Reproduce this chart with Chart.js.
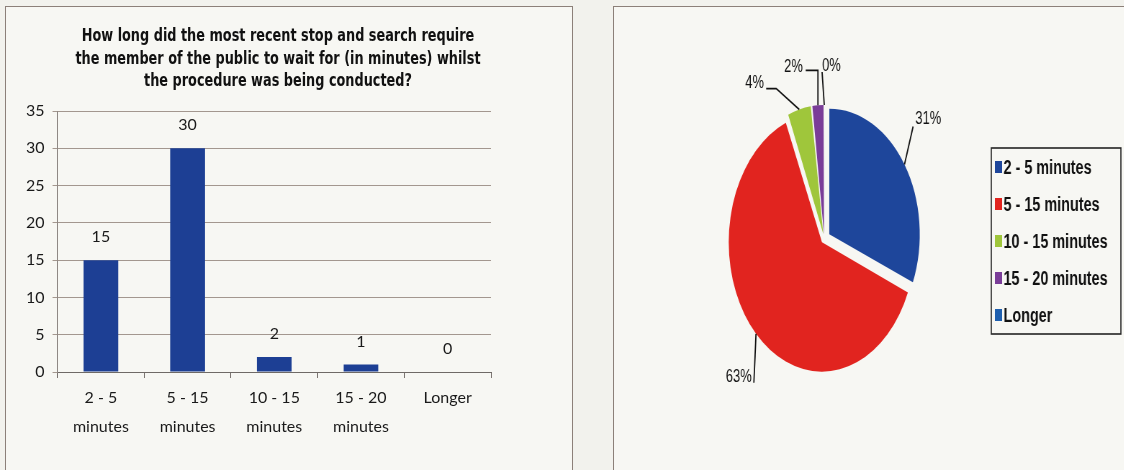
<!DOCTYPE html>
<html>
<head>
<meta charset="utf-8">
<title>Stop and search waiting time</title>
<script src="https://cdn.jsdelivr.net/npm/chart.js@4.4.1/dist/chart.umd.min.js"></script>
<style>
  body { margin: 0; background: #f2f2ed; width: 1124px; height: 470px; overflow: hidden; position: relative; }
  .panel { position: absolute; top: 6px; height: 500px; border: 1.5px solid #8c8079; background: #f7f7f3; }
  #leftPanel { left: 5px; width: 566px; }
  #rightPanel { left: 613px; width: 600px; }
  #barChart { position: absolute; left: 8px; top: 8px; }
  /* the pie panel is drawn wide and squeezed sideways */
  #pieChart { position: absolute; left: 614px; top: 8px; transform: scaleX(0.72); transform-origin: 0 0; }
</style>
</head>
<body>
<div class="panel" id="leftPanel"></div>
<div class="panel" id="rightPanel"></div>
<canvas id="barChart" width="562" height="460"></canvas>
<canvas id="pieChart" width="708" height="462"></canvas>
<script>
// waiting time answers
const durations = ['2 - 5 minutes', '5 - 15 minutes', '10 - 15 minutes', '15 - 20 minutes', 'Longer'];
const responses = [15, 30, 2, 1, 0];
const yTicks = [0, 5, 10, 15, 20, 25, 30, 35];
const titleLines = ['How long did the most recent stop and search require',
                    'the member of the public to wait for (in minutes) whilst',
                    'the procedure was being conducted?'];

const barColour = '#1d3f94';
const pieColours = ['#1e469b', '#e1241f', '#9fc63b', '#7a3d98', '#1f5fae'];
const explode = 9; // how far each slice is pulled out

// "2 - 5 minutes" -> ["2 - 5", "minutes"] for the category axis
const xLabels = durations.map(d => d.endsWith(' minutes') ? [d.replace(' minutes', ''), 'minutes'] : d);
const total = responses.reduce((a, b) => a + b, 0);
const percents = responses.map(v => Math.round(v / total * 100) + '%');

const tickFont = { family: 'Lato, sans-serif', size: 16 };

// narrow bold title over the bars (the built-in title can't be condensed)
const narrowTitle = {
    id: 'narrowTitle',
    afterDraw(chart, args, opts) {
        const ctx = chart.ctx;
        ctx.save();
        ctx.translate(opts.x, opts.y);
        ctx.scale(opts.squeeze, 1);
        ctx.font = 'bold 17px "DejaVu Sans Condensed", sans-serif';
        ctx.fillStyle = '#111';
        ctx.textAlign = 'center';
        ctx.textBaseline = 'middle';
        titleLines.forEach((line, i) => ctx.fillText(line, 0, i * opts.lineGap));
        ctx.restore();
    }
};

// numbers above the bars
const valueLabels = {
    id: 'valueLabels',
    afterDatasetsDraw(chart) {
        const ctx = chart.ctx;
        ctx.save();
        ctx.font = '16px Lato, sans-serif';
        ctx.fillStyle = '#1a1a1a';
        ctx.textAlign = 'center';
        ctx.textBaseline = 'middle';
        chart.getDatasetMeta(0).data.forEach((bar, i) => {
            ctx.fillText(responses[i], bar.x, bar.y - 23);
        });
        ctx.restore();
    }
};

new Chart(document.getElementById('barChart'), {
    type: 'bar',
    data: {
        labels: xLabels,
        datasets: [{
            data: responses,
            backgroundColor: barColour,
            barPercentage: 0.5,
            categoryPercentage: 0.8
        }]
    },
    options: {
        responsive: false,
        animation: false,
        layout: { padding: { left: 10, right: 40, top: 103, bottom: 21 } },
        plugins: {
            legend: { display: false },
            tooltip: { enabled: false },
            narrowTitle: { x: 270, y: 29, lineGap: 22.5, squeeze: 0.84 }
        },
        scales: {
            x: {
                grid: { drawOnChartArea: false, tickLength: 6, color: '#7d7773' },
                border: { color: '#6f6a66' },
                ticks: { font: { ...tickFont, lineHeight: '29px' }, color: '#1a1a1a', padding: 5.5, maxRotation: 0 }
            },
            y: {
                min: 0,
                max: 35,
                afterBuildTicks: s => { s.ticks = yTicks.map(v => ({ value: v })); },
                grid: { color: '#a3978f', tickLength: 5 },
                border: { color: '#8f8985' },
                ticks: { font: tickFont, color: '#1a1a1a', padding: 8 }
            },
            // empty right-hand strip so the plot stops short of the panel edge
            gap: {
                position: 'right',
                grid: { display: false },
                border: { display: false },
                ticks: { display: false },
                afterFit: s => { s.width = 39; }
            }
        }
    },
    plugins: [valueLabels, narrowTitle]
});

// percentage labels with leader lines, offsets are in canvas px
const callouts = [
    { ex: 12, ey: -38, tx: 0, align: 'left', gx: 3, dy: -8 },
    { ex: -3, ey: 49, tx: 0, align: 'right', gx: -3, dy: -6 },
    { ex: -32, ey: -21, tx: -14, align: 'right', gx: -3, dy: -6 },
    { ex: 0, ey: -35, tx: -17, align: 'right', gx: -4, dy: -3 },
    { ex: -3, ey: -33, tx: 0, align: 'left', gx: 0, dy: -6 }
];

const pieCallouts = {
    id: 'pieCallouts',
    afterDatasetsDraw(chart) {
        const ctx = chart.ctx;
        ctx.save();
        ctx.strokeStyle = '#111';
        ctx.lineWidth = 1.8;
        ctx.fillStyle = '#111';
        ctx.font = '18px "Liberation Sans", Arial, sans-serif';
        ctx.textBaseline = 'middle';
        chart.getDatasetMeta(0).data.forEach((arc, i) => {
            const c = callouts[i];
            const mid = (arc.startAngle + arc.endAngle) / 2;
            const r = arc.outerRadius + explode;
            const ax = arc.x + Math.cos(mid) * r;
            const ay = arc.y + Math.sin(mid) * r;
            const ex = ax + c.ex, ey = ay + c.ey, tx = ex + c.tx;
            ctx.beginPath();
            ctx.moveTo(ax, ay);
            ctx.lineTo(ex, ey);
            ctx.lineTo(tx, ey);
            ctx.stroke();
            ctx.textAlign = c.align;
            ctx.fillText(percents[i], tx + c.gx, ey + c.dy);
        });
        ctx.restore();
    }
};

// legend in a bordered box
const boxedLegend = {
    id: 'boxedLegend',
    afterDraw(chart, args, opts) {
        const ctx = chart.ctx;
        const colours = chart.data.datasets[0].backgroundColor;
        ctx.save();
        ctx.strokeStyle = '#222';
        ctx.lineWidth = 1.6;
        ctx.strokeRect(opts.left, opts.top, opts.width, opts.height);
        ctx.font = 'bold 20px "Liberation Sans", Arial, sans-serif';
        ctx.textBaseline = 'middle';
        ctx.textAlign = 'left';
        chart.data.labels.forEach((label, i) => {
            const y = opts.top + opts.firstRow + i * opts.rowGap;
            ctx.fillStyle = colours[i];
            ctx.fillRect(opts.left + 5, y - 6, 10, 12);
            ctx.fillStyle = '#111';
            ctx.fillText(label, opts.left + 17, y + 1);
        });
        ctx.restore();
    }
};

new Chart(document.getElementById('pieChart'), {
    type: 'pie',
    data: {
        labels: durations,
        datasets: [{
            data: responses,
            backgroundColor: pieColours,
            borderWidth: 0,
            radius: 125,
            hoverOffset: 0,
            // arcs are pushed out by offset/4 * (1 + fix), undo that so every slice moves the same
            offset: c => {
                const circ = responses[c.dataIndex] / total * Math.PI * 2;
                const fix = 1 - Math.sin(Math.min(Math.PI, circ));
                return 4 * explode / (1 + fix);
            }
        }]
    },
    options: {
        responsive: false,
        animation: false,
        layout: { padding: { left: 147, right: 271, top: 0, bottom: 0 } },
        plugins: {
            legend: { display: false },
            tooltip: { enabled: false },
            boxedLegend: { left: 524, top: 140, width: 180, height: 186, firstRow: 19, rowGap: 37 }
        }
    },
    plugins: [pieCallouts, boxedLegend]
});
</script>
</body>
</html>
